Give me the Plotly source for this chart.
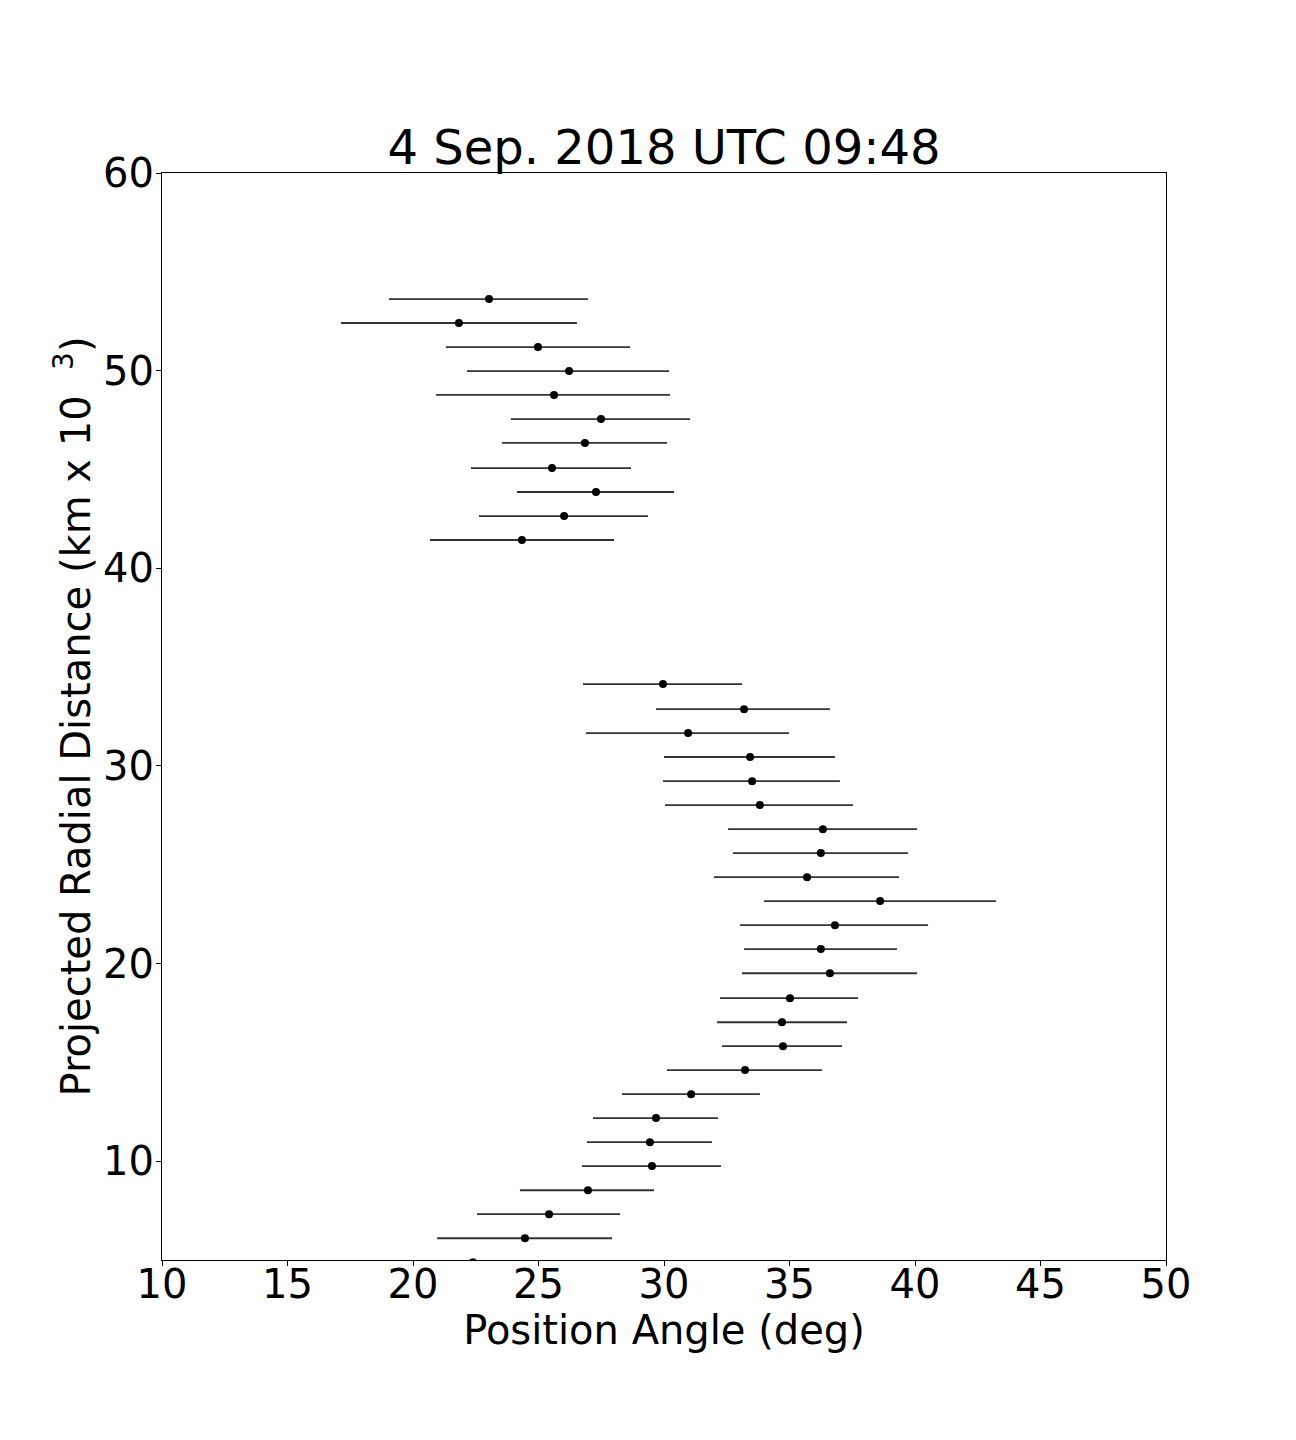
import plotly.graph_objects as go

# projected radial distance (km x 10^3)
radial = [53.62, 52.41, 51.19, 49.98, 48.77, 47.55, 46.34, 45.07, 43.86, 42.64, 41.43,
          34.14, 32.87, 31.66, 30.45, 29.23, 28.02, 26.80, 25.59, 24.37, 23.16, 21.94,
          20.73, 19.51, 18.25, 17.03, 15.82, 14.61, 13.39, 12.18, 10.96, 9.75, 8.53,
          7.32, 6.10, 4.89]
# position angle (deg)
angle = [23.03, 21.83, 24.98, 26.22, 25.62, 27.49, 26.85, 25.54, 27.29, 26.02, 24.34,
         29.96, 33.19, 30.96, 33.43, 33.51, 33.82, 36.33, 36.25, 35.70, 38.61, 36.81,
         36.25, 36.61, 35.02, 34.70, 34.74, 33.23, 31.08, 29.68, 29.44, 29.52, 26.97,
         25.42, 24.46, 22.39]
# lower / upper limits of the angle
angle_lo = [19.04, 17.13, 21.31, 22.15, 20.92, 23.90, 23.55, 22.31, 24.14, 22.63, 20.68,
            26.77, 29.68, 26.89, 30.00, 29.96, 30.04, 32.55, 32.75, 31.99, 33.98, 33.03,
            33.19, 33.11, 32.23, 32.11, 32.31, 30.12, 28.33, 27.17, 26.93, 26.73, 24.26,
            22.55, 20.96, 19.00]
angle_hi = [26.97, 26.53, 28.65, 30.20, 30.24, 31.04, 30.12, 28.69, 30.40, 29.36, 28.01,
            33.11, 36.61, 34.98, 36.81, 37.01, 37.53, 40.08, 39.72, 39.36, 43.23, 40.52,
            39.28, 40.08, 37.73, 37.29, 37.09, 36.29, 33.82, 32.15, 31.91, 32.27, 29.60,
            28.25, 27.93, 25.80]

err_plus = [h - a for h, a in zip(angle_hi, angle)]
err_minus = [a - l for a, l in zip(angle, angle_lo)]

FONT = "DejaVu Sans"

fig = go.Figure(go.Scatter(
    x=angle, y=radial, mode='markers',
    marker=dict(color='black', size=8),
    error_x=dict(type='data', symmetric=False, array=err_plus, arrayminus=err_minus,
                 color='#333333', thickness=1.8, width=0),
    cliponaxis=True, showlegend=False))

axis_common = dict(showline=True, linecolor='black', linewidth=1, mirror=True,
                   showgrid=False, zeroline=False, ticks='outside', ticklen=5,
                   tickcolor='black', tickfont=dict(family=FONT, size=40, color='black'))

# page body adds 8px, so margins are shifted by that
fig.update_layout(
    width=1296, height=1440,
    paper_bgcolor='white', plot_bgcolor='white',
    margin=dict(l=154, r=138, t=165, b=188, autoexpand=False),
    title=dict(text='4 Sep. 2018 UTC 09:48', x=0.5, xref='paper', xanchor='center',
               y=1, yref='paper', yanchor='bottom', pad=dict(b=9),
               font=dict(family=FONT, size=48, color='black')),
    xaxis=dict(range=[10, 50], tickvals=[10, 15, 20, 25, 30, 35, 40, 45, 50],
               ticklabelstandoff=-16,
               title=dict(text='Position Angle (deg)', standoff=2,
                          font=dict(family=FONT, size=40, color='black')),
               **axis_common),
    yaxis=dict(range=[5, 60], tickvals=[10, 20, 30, 40, 50, 60],
               ticklabelstandoff=-6,
               title=dict(text='Projected Radial Distance (km x 10&nbsp;&nbsp;<sup>3</sup>)',
                          standoff=0, font=dict(family=FONT, size=40, color='black')),
               **axis_common),
    font=dict(family=FONT, color='black'))

fig.write_html("out.html")
